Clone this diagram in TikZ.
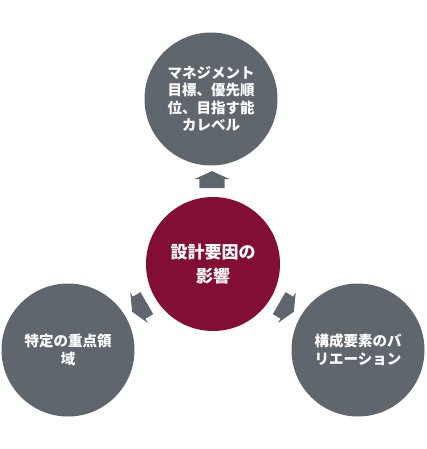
\documentclass[tikz,border=0pt]{standalone}
\usepackage{fontspec}
\setmainfont{Noto Sans CJK JP}
\usepackage{tikz}
\usetikzlibrary{shapes.arrows}
\definecolor{slate}{HTML}{5F666D}
\definecolor{wine}{HTML}{820E36}
\tikzstyle{hub} = [circle, 
minimum size=134pt, 
inner sep=0pt,
text centered, 
fill=wine, 
text=white,
font=\fontsize{17}{24}\selectfont\bfseries]
\tikzstyle{topic} = [circle, 
minimum size=133pt, 
inner sep=0pt,
align=center, 
fill=slate, 
text=white,
font=\fontsize{14.5}{17.5}\selectfont\bfseries]
\tikzstyle{blockarrow} = [single arrow, 
minimum height=17pt, 
inner xsep=0pt,
inner ysep=12.5pt,
single arrow head extend=5pt,
single arrow head indent=0pt,
single arrow tip angle=131,
fill=slate]

\begin{document}
\begin{tikzpicture}[x=1pt, y=-1pt]
\useasboundingbox (0,0) rectangle (427,449);

\node (impact) [hub, align=center] at (213,264) {設計要因の\\影響};

\node (goals) [topic] at (211,99) {マネジメント\\目標、優先順\\位、目指す能\\カレベル};
\node (focus) [topic] at (68,350) {特定の重点領\\域};
\node (variety) [topic] at (358,350) {構成要素のバ\\リエーション};

\node (toGoals) [blockarrow, rotate=90] at (212,182.5) {};
\node (toFocus) [blockarrow, rotate=210] at (142,306) {};
\node (toVariety) [blockarrow, rotate=-30] at (284,306) {};

\end{tikzpicture}
\end{document}
